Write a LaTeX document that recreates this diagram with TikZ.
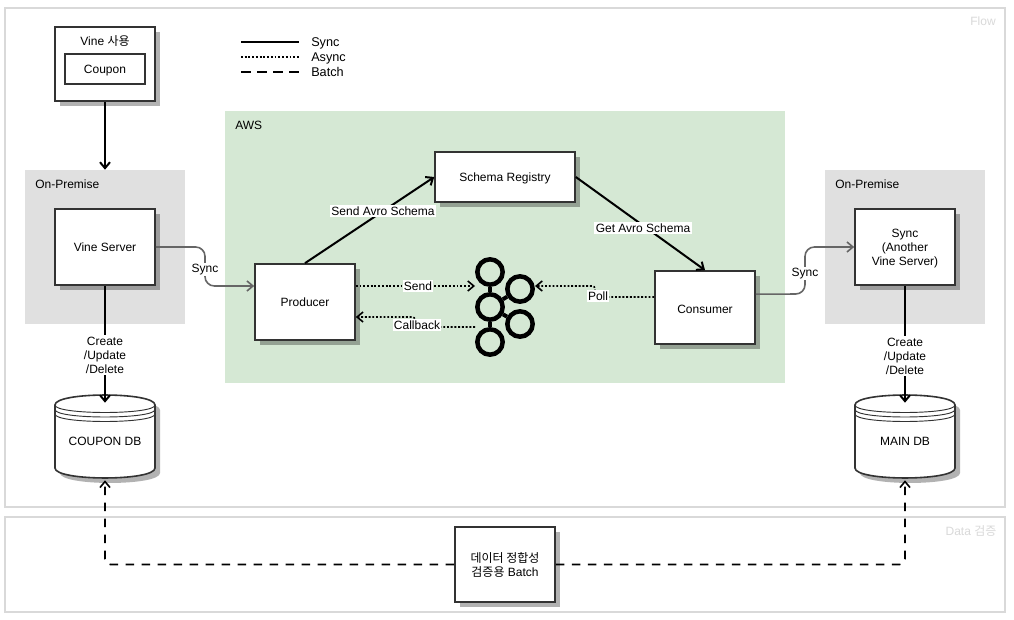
\documentclass[tikz,border=0pt]{standalone}
\usepackage{fontspec}
\setmainfont{Liberation Sans}
\newfontfamily\krfont{Noto Sans CJK KR}
\usetikzlibrary{arrows.meta,shadows}

\definecolor{framegray}{HTML}{D9D9D9}
\definecolor{premgray}{HTML}{E0E0E0}
\definecolor{awsgreen}{HTML}{D5E8D4}
\definecolor{edgegray}{HTML}{666666}
\definecolor{boxline}{HTML}{333333}

\tikzset{
  every node/.style={font=\fontsize{9}{10.5}\selectfont},
  frame/.style={draw=framegray, line width=1.5pt, minimum width=750pt, fill=white},
  zone/.style={minimum width=120pt, minimum height=115.5pt},
  zonetext/.style={anchor=west, inner sep=0pt, text height=7.5pt, text depth=1pt},
  box/.style={draw=boxline, line width=1.2pt, fill=white, align=center, inner sep=0pt,
    minimum width=75pt, minimum height=57pt,
    drop shadow={shadow xshift=3.75pt, shadow yshift=-3.75pt, opacity=.3, fill=black}},
  lbl/.style={fill=white, inner sep=1pt, align=center},
  syncline/.style={black, line width=1.5pt},
  asyncline/.style={black, line width=1.2pt, dash pattern=on 1.4pt off 1.4pt},
  batchline/.style={black, line width=1.2pt, dash pattern=on 6.5pt off 5.5pt},
  legendbatch/.style={black, line width=1.2pt, dash pattern=on 7.5pt off 4.5pt},
  grayline/.style={edgegray, line width=1.2pt, rounded corners=7pt},
  kafka/.style={circle, draw=black, line width=3.4pt, minimum size=19pt, inner sep=0pt},
  dbnode/.style={minimum width=75pt, minimum height=62.25pt, inner sep=0pt, text height=14pt, text depth=.7pt}
}

\newcommand{\dbstore}[3]{
  \begin{scope}[shift={(#1)}]
    \fill[black, opacity=.3, shift={(5,5)}] (-50,-31.5) .. controls (-50,-44.8) and (50,-44.8) .. (50,-31.5)
      -- (50,31.5) .. controls (50,44.8) and (-50,44.8) .. (-50,31.5) -- cycle;
    \filldraw[fill=white, draw=boxline, line width=1.2pt] (-50,-31.5) .. controls (-50,-44.8) and (50,-44.8) .. (50,-31.5)
      -- (50,31.5) .. controls (50,44.8) and (-50,44.8) .. (-50,31.5) -- cycle;
    \foreach \o in {0,4.5,9}
      \draw[boxline, line width=.7pt] (-50,-31.5+\o) .. controls (-50,-21.5+\o) and (50,-21.5+\o) .. (50,-31.5+\o);
  \end{scope}
  \node[dbnode] (#2) at (#1) {#3};
}

\begin{document}
\begin{tikzpicture}[x=.75pt, y=-.75pt, >={Straight Barb[length=4.5pt, width=7.5pt]}]
  \useasboundingbox (0,0) rectangle (1014,620);

  % frames
  \node[frame, minimum height=374.25pt] (flow) at (505,257.5) {};
  \node[frame, minimum height=71.25pt] (datacheck) at (505,564.5) {};
  \node[text=framegray] (flowtext) at (983,21) {Flow};
  \node[text=framegray] (datatext) at (971,531) {Data {\krfont 검증}};

  % zones
  \node[zone, fill=premgray] (premleft) at (105,247) {};
  \node[zone, fill=premgray] (premright) at (905,247) {};
  \node[fill=awsgreen, minimum width=420pt, minimum height=204pt] (aws) at (505,247) {};
  \node[zonetext] (premlefttext) at (35,184) {On-Premise};
  \node[zonetext] (premrighttext) at (835,184) {On-Premise};
  \node[zonetext] (awstext) at (235,125) {AWS};

  % legend
  \foreach \y/\name/\sty in {42/Sync/syncline, 57/Async/asyncline, 72/Batch/legendbatch} {
    \coordinate (a\name) at (241,\y);
    \node[zonetext, font=\fontsize{9.5}{11}\selectfont] (t\name) at (311,\y) {\name};
    \draw[\sty] (a\name) -- (299,\y);
  }

  % boxes
  \node[box, minimum height=55.5pt] (vine) at (105,64) {};
  \node[draw=boxline, line width=1.2pt, minimum width=60pt, minimum height=22.5pt, inner sep=0pt, text height=7.5pt, text depth=1pt] (coupon) at (105,69) {Coupon};
  \node (vinetext) at (105,41) {Vine {\krfont 사용}};
  \node[box] (vineserver) at (105,247) {Vine Server};
  \node[box, minimum width=105pt, minimum height=37.5pt] (schema) at (505,177) {\rule{0pt}{8pt}Schema Registry};
  \node[box] (producer) at (305,302) {Producer};
  \node[box, minimum height=54.75pt] (consumer) at (705,307.5) {\rule{0pt}{9pt}Consumer};
  \node[box] (syncserver) at (905,247) {\rule{0pt}{9pt}Sync\\(Another\\Vine Server)};
  \node[box, minimum height=56.25pt] (batch) at (505,564.5) {{\krfont 데이터 정합성}\\{\krfont 검증용} Batch};
  \dbstore{105,436.5}{coupondb}{COUPON DB}
  \dbstore{905,436.5}{maindb}{MAIN DB}

  % kafka
  \node[kafka] (k1) at (490,272) {};
  \node[kafka] (k2) at (520,289) {};
  \node[kafka] (k3) at (490,307) {};
  \node[kafka] (k4) at (520,324) {};
  \node[kafka] (k5) at (490,342) {};
  \foreach \k in {k1,k2,k4,k5}
    \draw[black, line width=3pt] (k3) -- (\k);
  \coordinate (sendend) at (475,286);
  \coordinate (callbackstart) at (475,327);
  \coordinate (pollend) at (535,286);

  % edges
  \path[->, syncline] (vine) edge (premleft.north);
  \draw[->, syncline, shorten >=-6pt] (vineserver) -- (coupondb);
  \draw[->, syncline, shorten >=-6pt] (syncserver) -- (maindb);
  \draw[->, syncline] (producer.north) -- (schema.west);
  \draw[->, syncline] (schema.east) -- (consumer.north);
  \draw[->, grayline] (vineserver.east) -- (205,247) -- (205,286) -- ([yshift=12pt]producer.west);
  \draw[->, grayline] ([yshift=10pt]consumer.east) -- (805,294) -- (805,247) -- (syncserver.west);
  \draw[->, asyncline] ([yshift=12pt]producer.east) -- (sendend);
  \draw[->, asyncline, rounded corners=2pt] (callbackstart) -- (415,327) -- (415,317) -- ([yshift=-11.25pt]producer.east);
  \draw[->, asyncline, rounded corners=2pt] ([yshift=7.9pt]consumer.west) -- (595,297) -- (595,286) -- (pollend);
  \draw[->, batchline, rounded corners=4pt, shorten >=1.5pt] (batch.west) -- (105,564.5) -- (coupondb.south);
  \draw[->, batchline, rounded corners=4pt, shorten >=1.5pt] (batch.east) -- (905,564.5) -- (maindb.south);

  % edge labels
  \node[lbl] (sendavro) at (383,211) {Send Avro Schema};
  \node[lbl] (getavro) at (643,228) {Get Avro Schema};
  \node[lbl] (syncleft) at (205,269.5) {Sync};
  \node[lbl] (syncright) at (805,273.5) {Sync};
  \node[lbl] (sendlbl) at (418,286) {Send};
  \node[lbl] (callbacklbl) at (417,325) {Callback};
  \node[lbl] (polllbl) at (598,296) {Poll};
  \node[lbl] (crudleft) at (105,355) {Create\\/Update\\/Delete};
  \node[lbl] (crudright) at (905,356) {Create\\/Update\\/Delete};
\end{tikzpicture}
\end{document}
